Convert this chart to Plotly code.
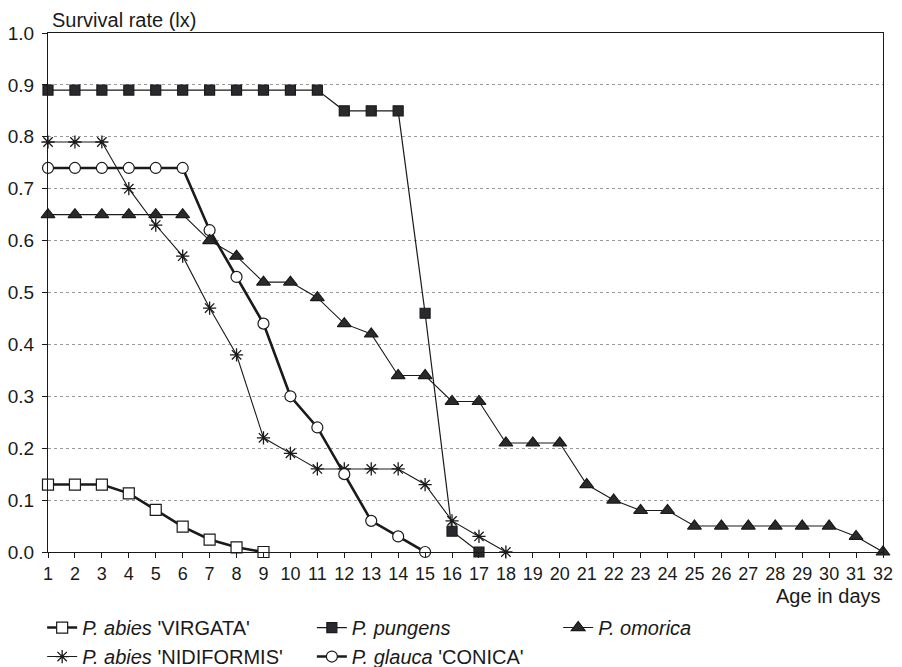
import plotly.graph_objects as go

days = list(range(1, 33))

virgata_days = [1, 2, 3, 4, 5, 6, 7, 8, 9]
virgata = [0.13, 0.13, 0.13, 0.113, 0.081, 0.049, 0.024, 0.009, 0.0]

pungens_days = list(range(1, 18))
pungens = [0.89] * 11 + [0.85, 0.85, 0.85, 0.46, 0.04, 0.0]

omorica_days = list(range(1, 33))
omorica = [0.65, 0.65, 0.65, 0.65, 0.65, 0.65, 0.60, 0.57, 0.52, 0.52,
           0.49, 0.44, 0.42, 0.34, 0.34, 0.29, 0.29, 0.21, 0.21, 0.21,
           0.13, 0.10, 0.08, 0.08, 0.05, 0.05, 0.05, 0.05, 0.05, 0.05,
           0.03, 0.0]

nidiformis_days = list(range(1, 19))
nidiformis = [0.79, 0.79, 0.79, 0.70, 0.63, 0.57, 0.47, 0.38, 0.22, 0.19,
              0.16, 0.16, 0.16, 0.16, 0.13, 0.06, 0.03, 0.0]

conica_days = list(range(1, 16))
conica = [0.74, 0.74, 0.74, 0.74, 0.74, 0.74, 0.62, 0.53, 0.44, 0.30,
          0.24, 0.15, 0.06, 0.03, 0.0]

y_ticks = [round(i * 0.1, 1) for i in range(11)]
y_tick_labels = [f"{v:.1f}" for v in y_ticks]

FONT = "Liberation Sans, Arial, sans-serif"
INK = "#1a1a1a"

fig = go.Figure()

def add(xs, ys, name, symbol, size, lw, mcolor, legend, mline=1.2):
    fig.add_trace(go.Scatter(
        x=xs, y=ys, name=name, mode="lines+markers",
        line=dict(color=INK, width=lw),
        marker=dict(symbol=symbol, size=size, color=mcolor,
                    line=dict(color=INK, width=mline)),
        cliponaxis=False, legend=legend,
    ))

add(virgata_days, virgata, "<i>P. abies</i> 'VIRGATA'", "square", 11, 2.6, "white", "legend")
add(nidiformis_days, nidiformis, "<i>P. abies</i> 'NIDIFORMIS'", "asterisk-open", 11, 1.1, INK, "legend", 1.3)
add(pungens_days, pungens, "<i>P. pungens</i>", "square", 10, 1.2, "#2a2a2e", "legend2")
add(conica_days, conica, "<i>P. glauca</i> 'CONICA'", "circle", 11, 2.6, "white", "legend2")
add(omorica_days, omorica, "<i>P. omorica</i>", "triangle-up", 12, 1.1, "#2a2a2e", "legend3")

legend_common = dict(
    font=dict(family=FONT, size=20, color=INK),
    bgcolor="rgba(0,0,0,0)", orientation="v",
    yanchor="top", xanchor="left", y=-0.108,
    itemwidth=30, tracegroupgap=0,
)

# page body adds an 8px offset, so the figure is 8px smaller and shifted
fig.update_layout(
    width=894, height=659,
    margin=dict(l=40, r=19, t=25, b=115, autoexpand=False),
    paper_bgcolor="white", plot_bgcolor="white",
    font=dict(family=FONT, size=18, color=INK),
    showlegend=True,
    legend=dict(x=-0.007, **legend_common),
    legend2=dict(x=0.316, **legend_common),
    legend3=dict(x=0.611, **legend_common),
    xaxis=dict(
        range=[1, 32], tickmode="array", tickvals=days,
        ticktext=[str(d) for d in days],
        showgrid=False, zeroline=False, automargin=False,
        showline=True, linecolor=INK, linewidth=1.2, mirror=True,
        ticks="outside", ticklen=5, tickcolor=INK,
        tickfont=dict(family=FONT, size=18, color=INK),
    ),
    yaxis=dict(
        range=[0, 1], tickmode="array", tickvals=y_ticks, ticktext=y_tick_labels,
        showgrid=True, gridcolor="#999999", griddash="dot", gridwidth=1,
        zeroline=False, automargin=False,
        showline=True, linecolor=INK, linewidth=1.2, mirror=True,
        ticks="outside", ticklen=5, tickcolor=INK, ticklabelstandoff=4,
        tickfont=dict(family=FONT, size=19, color=INK),
    ),
    annotations=[
        dict(text="Survival rate (lx)", xref="paper", yref="paper",
             x=0.002, y=1.0, xanchor="left", yanchor="bottom", yshift=0,
             showarrow=False, font=dict(family=FONT, size=20, color=INK)),
        dict(text="Age in days", xref="paper", yref="paper",
             x=1.0, y=0, xanchor="right", yanchor="top", yshift=-31,
             showarrow=False, font=dict(family=FONT, size=20, color=INK)),
    ],
)

fig.write_html("out.html")
